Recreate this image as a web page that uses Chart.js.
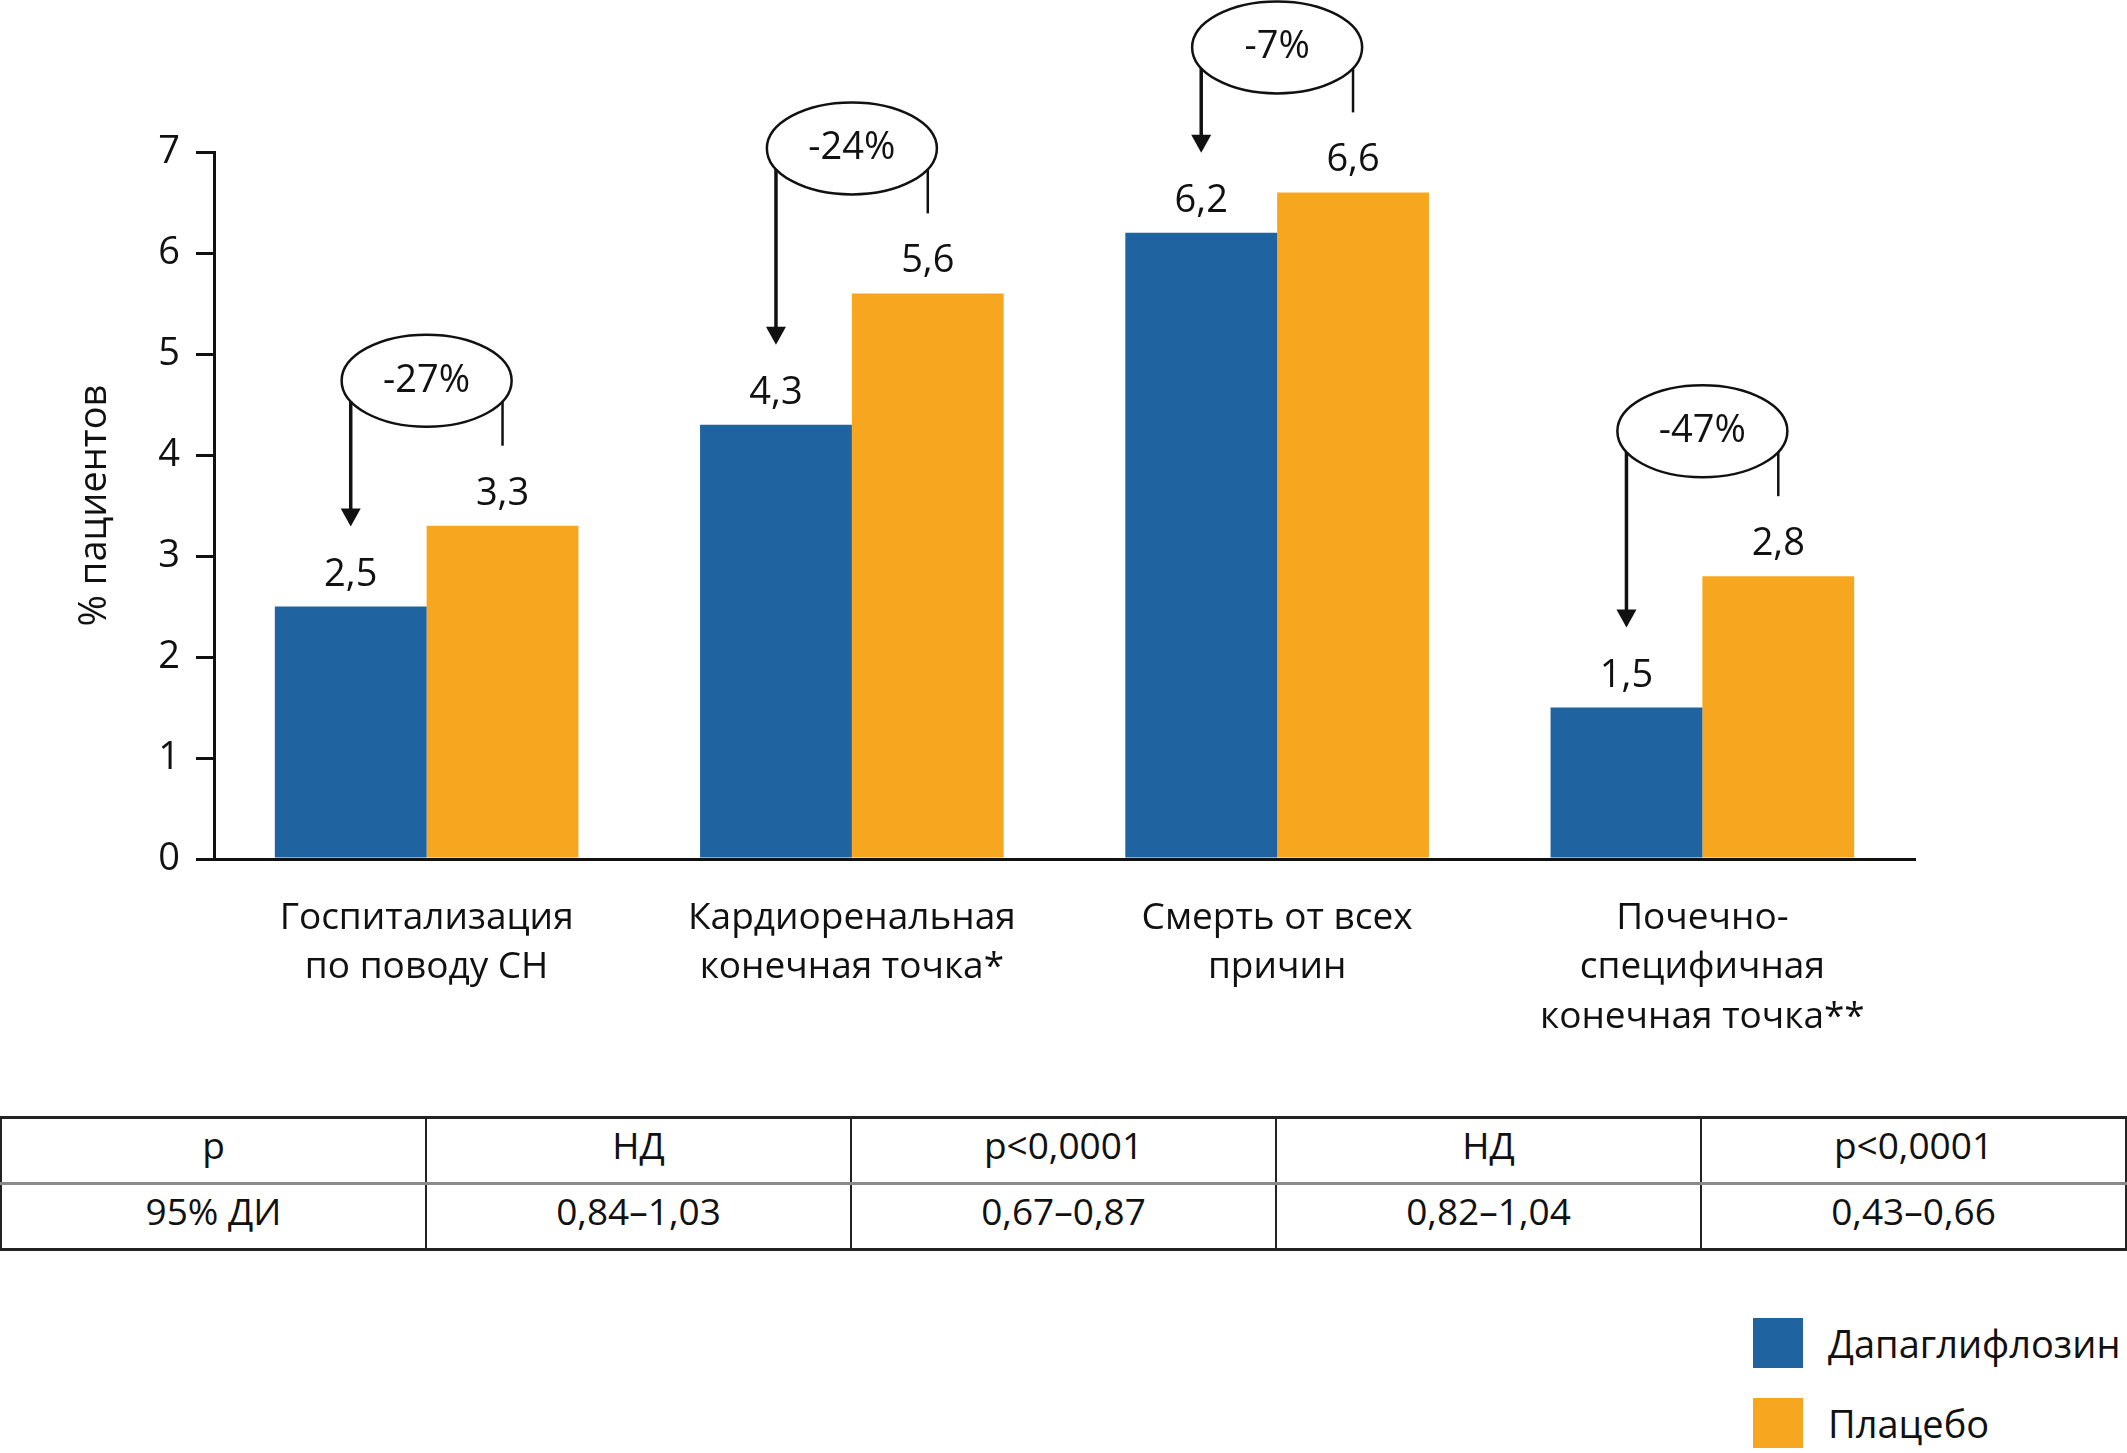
<!DOCTYPE html>
<html>
<head>
<meta charset="utf-8">
<script src="https://cdn.jsdelivr.net/npm/chart.js@4"></script>
<style>
  html, body { margin: 0; padding: 0; background: #fff; }
  body { width: 2127px; height: 1453px; position: relative; overflow: hidden; font-family: "Open Sans", sans-serif; color: #111; }
  #chartBox { position: absolute; left: 0; top: 0; width: 2127px; height: 1100px; }
  #stats { position: absolute; left: 0; top: 1116px; width: 2127px; border-collapse: collapse; table-layout: fixed; }
  #stats td { height: 64px; padding: 0 0 12px 0; box-sizing: border-box; text-align: center; vertical-align: middle; font-size: 37px; border-left: 2px solid #222; border-right: 2px solid #222; }
  #stats tr:first-child td { border-top: 3px solid #222; border-bottom: 3px solid #8a8a8a; }
  #stats tr:last-child td { border-bottom: 3px solid #222; }
  #legend { position: absolute; left: 1753px; top: 1318px; }
  .item { display: flex; align-items: center; height: 50px; margin-bottom: 30px; font-size: 38px; }
  .swatch { width: 50px; height: 50px; margin-right: 25px; }
</style>
</head>
<body>
<div id="chartBox"><canvas id="outcomes"></canvas></div>
<table id="stats"><tbody></tbody></table>
<div id="legend"></div>
<script>
var categories = [
  ['Госпитализация', 'по поводу СН'],
  ['Кардиоренальная', 'конечная точка*'],
  ['Смерть от всех', 'причин'],
  ['Почечно-', 'специфичная', 'конечная точка**']
];
var dapagliflozin = [2.5, 4.3, 6.2, 1.5];
var placebo = [3.3, 5.6, 6.6, 2.8];
var reductions = ['-27%', '-24%', '-7%', '-47%'];

var statLabels = ['p', '95% ДИ'];
var pValues = ['НД', 'p<0,0001', 'НД', 'p<0,0001'];
var ciValues = ['0,84–1,03', '0,67–0,87', '0,82–1,04', '0,43–0,66'];

var seriesNames = ['Дапаглифлозин', 'Плацебо'];
var blue = '#1f63a0';
var orange = '#f7a61f';
var ink = '#111';
var font = '"Open Sans", sans-serif';

function commaNum(v)
{
  return String(v).replace('.', ',');
}

// value labels + ellipse/arrow callouts
var calloutPlugin = {
  id: 'callouts',
  afterDatasetsDraw: function(chart) {
    var ctx = chart.ctx;
    var m0 = chart.getDatasetMeta(0);
    var m1 = chart.getDatasetMeta(1);
    ctx.save();
    ctx.fillStyle = ink;
    ctx.strokeStyle = ink;
    ctx.font = '38px ' + font;
    ctx.textAlign = 'center';
    ctx.textBaseline = 'alphabetic';
    for (var i = 0; i < categories.length; i++) {
      var b = m0.data[i];
      var o = m1.data[i];
      ctx.fillText(commaNum(dapagliflozin[i]), b.x, b.y - 21);
      ctx.fillText(commaNum(placebo[i]), o.x, o.y - 21);

      var cx = (b.x + o.x) / 2;
      var cy = o.y - 145;
      var rx = 85, ry = 46;
      ctx.lineWidth = 2.5;
      ctx.beginPath();
      ctx.ellipse(cx, cy, rx, ry, 0, 0, Math.PI * 2);
      ctx.stroke();
      ctx.textBaseline = 'middle';
      ctx.fillText(reductions[i], cx, cy);
      ctx.textBaseline = 'alphabetic';

      // right stub from ellipse down towards placebo bar
      var dxR = o.x - cx;
      var yR = cy + ry * Math.sqrt(Math.max(0, 1 - (dxR * dxR) / (rx * rx)));
      ctx.lineWidth = 2.5;
      ctx.beginPath();
      ctx.moveTo(o.x, yR);
      ctx.lineTo(o.x, o.y - 80);
      ctx.stroke();

      // arrow down towards dapagliflozin bar
      var dxL = b.x - cx;
      var yL = cy + ry * Math.sqrt(Math.max(0, 1 - (dxL * dxL) / (rx * rx)));
      var tip = b.y - 80;
      ctx.lineWidth = 3.5;
      ctx.beginPath();
      ctx.moveTo(b.x, yL);
      ctx.lineTo(b.x, tip - 16);
      ctx.stroke();
      ctx.beginPath();
      ctx.moveTo(b.x - 10, tip - 18);
      ctx.lineTo(b.x + 10, tip - 18);
      ctx.lineTo(b.x, tip);
      ctx.closePath();
      ctx.fill();
    }
    ctx.restore();
  }
};

function initChart()
{
  var ctx = document.getElementById('outcomes');
  new Chart(ctx, {
    type: 'bar',
    data: {
      labels: categories,
      datasets: [
        {label: seriesNames[0], data: dapagliflozin, backgroundColor: blue},
        {label: seriesNames[1], data: placebo, backgroundColor: orange}
      ]
    },
    options: {
      responsive: true,
      maintainAspectRatio: false,
      animation: false,
      events: [],
      layout: {padding: {left: 0, right: 212, top: 152, bottom: 0}},
      datasets: {bar: {categoryPercentage: 0.714, barPercentage: 1.0}},
      plugins: {legend: {display: false}, tooltip: {enabled: false}},
      scales: {
        x: {
          grid: {display: false},
          border: {color: ink, width: 3},
          ticks: {color: ink, padding: 27, maxRotation: 0, autoSkip: false,
                  font: {family: font, size: 37, lineHeight: 1.33}},
          afterFit: function(scale) { scale.height = 241; }
        },
        y: {
          min: 0,
          max: 7,
          ticks: {stepSize: 1, color: ink, padding: 16, font: {family: font, size: 38}},
          grid: {drawOnChartArea: false, drawTicks: true, tickLength: 18, color: ink, lineWidth: 3},
          border: {color: ink, width: 3},
          title: {display: true, text: '% пациентов', color: ink,
                  font: {family: font, size: 38}, padding: {top: 72, bottom: 0}},
          afterFit: function(scale) { scale.width = 214; }
        }
      }
    },
    plugins: [calloutPlugin]
  });
}

function initTable()
{
  var body = document.querySelector('#stats tbody');
  var rows = [pValues, ciValues];
  for (var r = 0; r < rows.length; r++) {
    var tr = document.createElement('tr');
    var cells = [statLabels[r]].concat(rows[r]);
    cells.forEach(function(t) {
      var td = document.createElement('td');
      td.textContent = t;
      tr.appendChild(td);
    });
    body.appendChild(tr);
  }
}

function initLegend()
{
  var box = document.getElementById('legend');
  [blue, orange].forEach(function(c, i) {
    var item = document.createElement('div');
    item.className = 'item';
    var sw = document.createElement('div');
    sw.className = 'swatch';
    sw.style.background = c;
    var tx = document.createElement('span');
    tx.textContent = seriesNames[i];
    item.appendChild(sw);
    item.appendChild(tx);
    box.appendChild(item);
  });
}

initChart();
initTable();
initLegend();
</script>
</body>
</html>
